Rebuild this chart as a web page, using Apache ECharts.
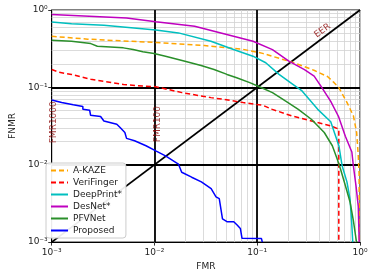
<!DOCTYPE html>
<html><head><meta charset="utf-8">
<script src="https://cdn.jsdelivr.net/npm/echarts@6/dist/echarts.min.js"></script>
<style>html,body{margin:0;padding:0;background:#fff}#c{width:374px;height:276px}</style>
</head><body><div id="c"></div><script>
// ---- data: [FMR, FNMR] pairs ----
const akaze = [[0.001,0.457],[0.00224,0.42],[0.0103,0.38],[0.0306,0.347],[0.073,0.31],[0.113,0.275],[0.217,0.212],[0.29,0.185],[0.361,0.165],[0.483,0.138],[0.56,0.115],[0.62,0.1],[0.746,0.064],[0.862,0.043],[0.928,0.026],[0.962,0.013],[0.98,0.0076],[0.985,0.001]];
const verifinger = [[0.001,0.17],[0.00117,0.157],[0.00156,0.147],[0.0024,0.127],[0.0032,0.12],[0.005,0.109],[0.0077,0.104],[0.0103,0.102],[0.0185,0.0855],[0.0354,0.0737],[0.0473,0.07],[0.073,0.0636],[0.113,0.0587],[0.14,0.052],[0.217,0.0427],[0.336,0.0368],[0.519,0.0318],[0.622,0.0288],[0.622,0.001]];
const deepprint = [[0.001,0.70],[0.00156,0.666],[0.00322,0.634],[0.0103,0.553],[0.0171,0.506],[0.0354,0.395],[0.0588,0.308],[0.0908,0.253],[0.121,0.208],[0.163,0.147],[0.217,0.112],[0.273,0.09],[0.388,0.052],[0.519,0.036],[0.623,0.0176],[0.67,0.0097],[0.746,0.006],[0.80,0.0036],[0.83,0.0018],[0.85,0.001]];
const desnet = [[0.001,0.877],[0.00535,0.789],[0.0103,0.707],[0.0246,0.615],[0.038,0.53],[0.091,0.395],[0.1406,0.308],[0.203,0.218],[0.288,0.17],[0.358,0.14],[0.418,0.103],[0.519,0.066],[0.618,0.042],[0.72,0.0234],[0.833,0.0146],[0.862,0.0097],[0.915,0.0053],[0.962,0.0029],[0.982,0.001]];
const pfvnet = [[0.001,0.406],[0.00156,0.394],[0.0016,0.376],[0.0024,0.368],[0.00278,0.34],[0.00498,0.324],[0.0062,0.308],[0.0077,0.288],[0.0099,0.274],[0.0128,0.253],[0.0198,0.218],[0.0284,0.192],[0.038,0.1705],[0.0508,0.147],[0.0631,0.133],[0.0845,0.115],[0.105,0.102],[0.1406,0.0855],[0.1877,0.0667],[0.251,0.052],[0.336,0.0387],[0.449,0.0261],[0.538,0.0176],[0.601,0.0118],[0.646,0.0088],[0.72,0.0054],[0.80,0.0033],[0.862,0.0019],[0.925,0.001]];
const proposed = [[0.001,0.0687],[0.00125,0.0636],[0.00162,0.0596],[0.00201,0.0565],[0.00201,0.052],[0.00234,0.0506],[0.00239,0.0436],[0.00299,0.042],[0.00322,0.0368],[0.0043,0.0334],[0.00463,0.0303],[0.00515,0.0261],[0.00535,0.0219],[0.0064,0.0204],[0.00827,0.0176],[0.0103,0.0151],[0.0128,0.013],[0.0171,0.0102],[0.0184,0.008],[0.023,0.0069],[0.0286,0.006],[0.0356,0.0049],[0.0397,0.00384],[0.0427,0.00365],[0.0459,0.002],[0.0512,0.00183],[0.0591,0.00183],[0.0637,0.00166],[0.0685,0.0015],[0.0711,0.00112],[0.11,0.00111],[0.112,0.001]];
const eerStart = [0.001, 0.001];
const eerEnd = [1, 1];
const refX = [0.01, 0.1];
const refY = [0.01, 0.1];
const tickLabels = ['10⁻³','10⁻²','10⁻¹','10⁰'];
const decades = [0.001, 0.01, 0.1];
const minorMult = [2,3,4,5,6,7,8,9];
const notes = [
  {name:'FMR1000', value:[0.00104,0.0354], rot:90},
  {name:'FMR100', value:[0.0108,0.0335], rot:90},
  {name:'EER', value:[0.431,0.54], rot:36}
];
// -------------------------------------------------------
const minor = [];
decades.forEach(d => minorMult.forEach(m => minor.push(d*m)));
const FONT = 'DejaVu Sans';
const fmt = v => tickLabels[Math.round(Math.log10(v)) + 3];
function axis(name, gap, isY){
  return {
    type:'log', logBase:10, min:0.001, max:1,
    name:name, nameLocation:'middle', nameGap:gap,
    nameTextStyle:{fontSize:9, color:'#222', fontFamily:FONT},
    axisLine:{show:true, lineStyle:{color:'#000', width:1}},
    axisTick:{show:true, length:3.5, lineStyle:{color:'#000', width:0.8}},
    axisLabel:{formatter:fmt, fontSize:9, color:'#222', fontFamily:FONT, margin:isY?4:6},
    splitLine:{show:true, lineStyle:{color:'#cfcfcf', width:0.8}}
  };
}
function curve(name, data, color, dashed){
  return {name:name, type:'line', data:data, symbol:'none', showSymbol:false, z:5,
    color:color,
    lineStyle:{color:color, width:1.5, type: dashed ? [5,3] : 'solid'}};
}
const chart = echarts.init(document.getElementById('c'), null, {renderer:'canvas'});
chart.setOption({
  animation:false,
  backgroundColor:'#fff',
  grid:{left:43, right:14, top:10, bottom:33, show:true, borderColor:'#000', borderWidth:1, backgroundColor:'transparent'},
  xAxis: axis('FMR', 19, false),
  yAxis: axis('FNMR', 34, true),
  legend:{
    data:['A-KAZE','VeriFinger','DeepPrint*','DesNet*','PFVNet','Proposed'],
    orient:'vertical', left:46, top:163, z:20, zlevel:0,
    itemWidth:17, itemHeight:9, itemGap:3,
    itemStyle:{color:'transparent', borderWidth:0, opacity:0},
    textStyle:{fontSize:9, color:'#222', fontFamily:FONT},
    padding:[3,4,3,4],
    backgroundColor:'rgba(255,255,255,0.92)', borderColor:'#cccccc', borderWidth:1, borderRadius:3
  },
  series:[
    {name:'minorgrid', type:'line', data:[], z:1, silent:true,
     markLine:{silent:true, symbol:['none','none'], label:{show:false}, animation:false,
       lineStyle:{color:'#d2d2d2', width:0.8, type:'solid'},
       data: minor.map(v=>({xAxis:v})).concat(minor.map(v=>({yAxis:v})))}},
    {name:'refs', type:'line', data:[], z:3, silent:true,
     markLine:{silent:true, symbol:['none','none'], label:{show:false}, animation:false,
       lineStyle:{color:'#000', width:1.8, type:'solid'},
       data: refX.map(v=>({xAxis:v})).concat(refY.map(v=>({yAxis:v}))).concat([[{coord:eerStart},{coord:eerEnd}]])}},
    curve('A-KAZE', akaze, '#ffa500', true),
    curve('VeriFinger', verifinger, '#ff0000', true),
    curve('DeepPrint*', deepprint, '#00bfbf', false),
    curve('DesNet*', desnet, '#bf00bf', false),
    curve('PFVNet', pfvnet, '#2a8f2a', false),
    curve('Proposed', proposed, '#0000ff', false),
    {name:'notes', type:'scatter', z:6, silent:true, symbolSize:1,
     itemStyle:{color:'transparent'},
     data: notes.map(n=>({value:n.value, label:{show:true, position:'inside', formatter:n.name, rotate:n.rot,
        color:'#8b0000', fontSize:9, fontFamily:FONT}}))}
  ]
});
</script></body></html>
